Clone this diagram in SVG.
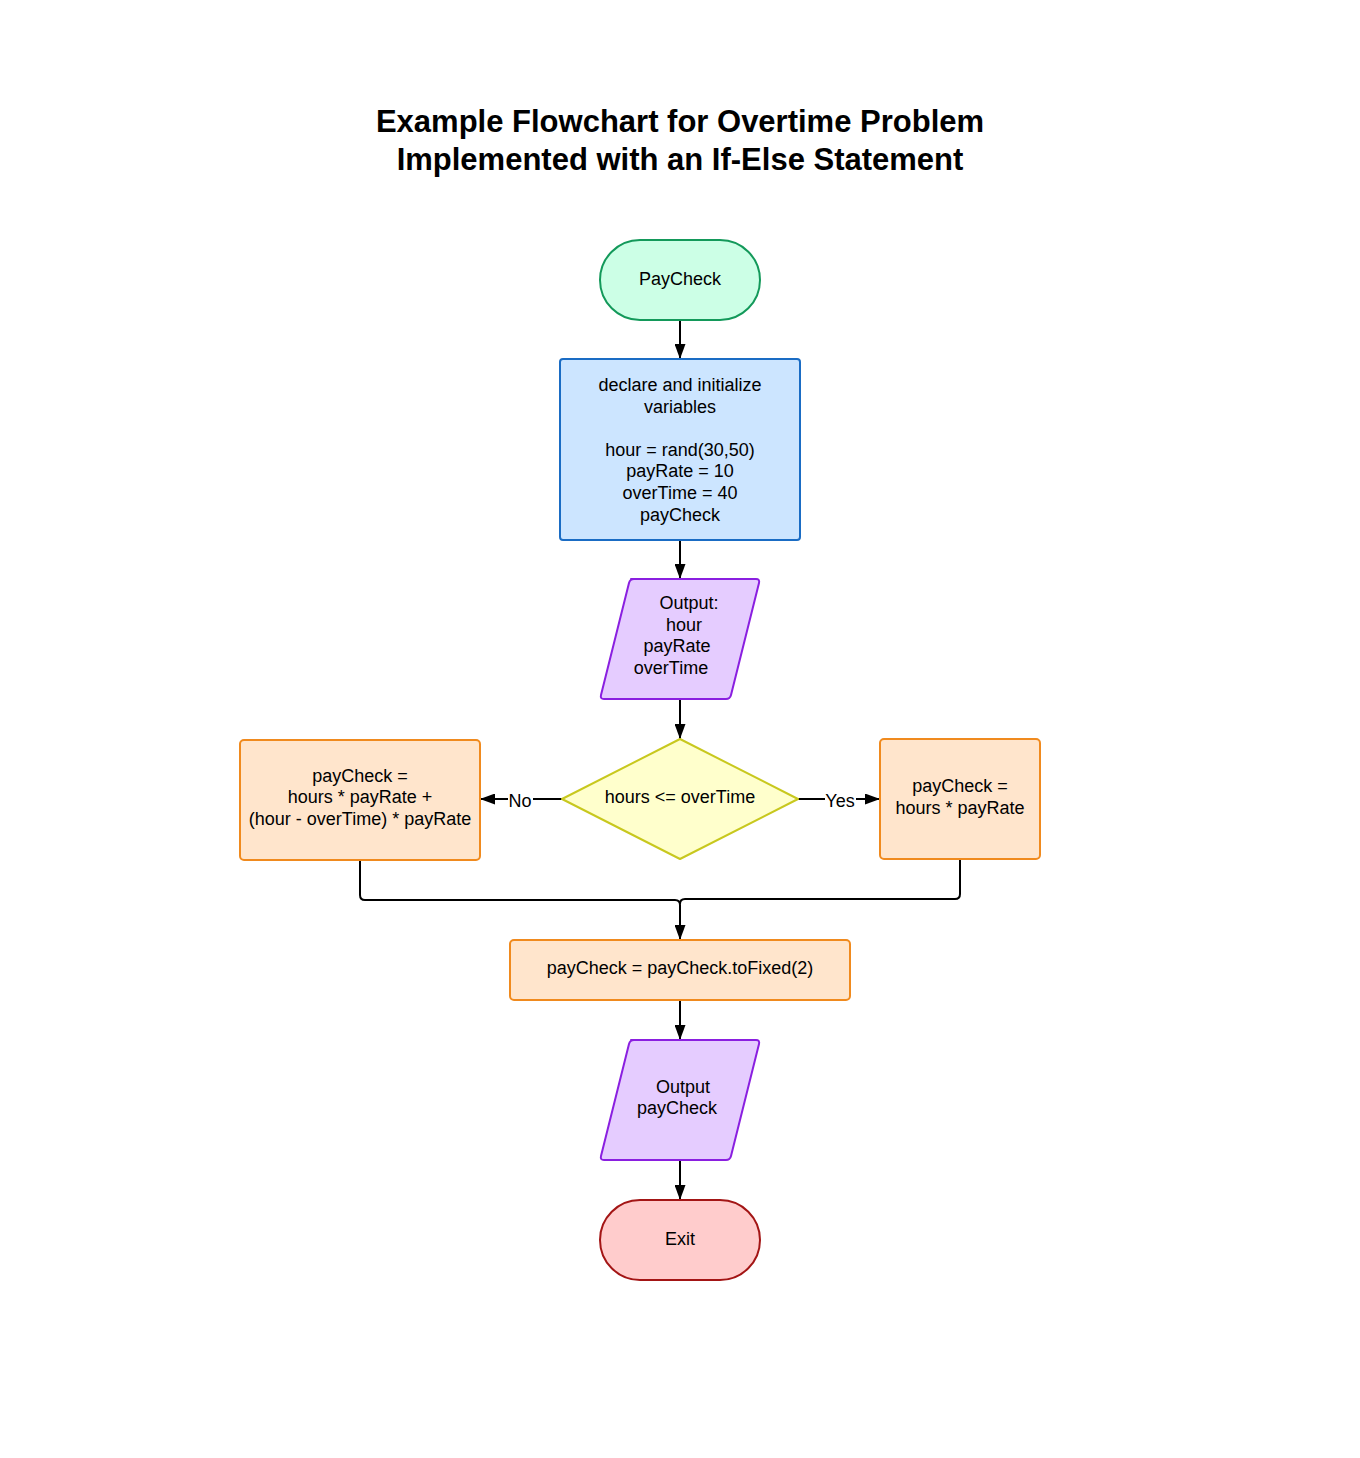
<svg xmlns="http://www.w3.org/2000/svg" width="1360" height="1458" viewBox="0 0 1360 1458">
<defs>
<style>
.t{font-family:"Liberation Sans",Arial,sans-serif;font-size:18px;fill:#000;text-anchor:middle}
.title{font-family:"Liberation Sans",Arial,sans-serif;font-size:31px;font-weight:bold;fill:#000;text-anchor:middle}
.c{fill:none;stroke:#000;stroke-width:2}
.term-g{fill:#ccffe6;stroke:#13995a;stroke-width:2}
.term-r{fill:#ffcccc;stroke:#a31515;stroke-width:2}
.proc-b{fill:#cce5ff;stroke:#1a6cc4;stroke-width:2}
.io{fill:#e5ccff;stroke:#8a1fe0;stroke-width:2;stroke-linejoin:round}
.dec{fill:#ffffcc;stroke:#c8c81e;stroke-width:2;stroke-linejoin:round}
.proc-o{fill:#ffe5cc;stroke:#f08a1e;stroke-width:2}
.lbl{fill:#fff}
</style>
<marker id="ah" markerWidth="15" markerHeight="11" viewBox="0 0 15 11" refX="15" refY="5.5" orient="auto" markerUnits="userSpaceOnUse">
<path d="M0,0 L15,5.5 L0,11 z" fill="#000"/>
</marker>
</defs>
<rect width="1360" height="1458" fill="#fff"/>
<g id="title">
<text class="title" x="680" y="132">Example Flowchart for Overtime Problem</text>
<text class="title" x="680" y="170">Implemented with an If-Else Statement</text>
</g>
<g id="connectors">
<line class="c" x1="680" y1="320" x2="680" y2="359" marker-end="url(#ah)"/>
<line class="c" x1="680" y1="540" x2="680" y2="579" marker-end="url(#ah)"/>
<line class="c" x1="680" y1="699" x2="680" y2="739" marker-end="url(#ah)"/>
<line class="c" x1="562" y1="799" x2="480" y2="799" marker-end="url(#ah)"/>
<line class="c" x1="798" y1="799" x2="880" y2="799" marker-end="url(#ah)"/>
<path class="c" d="M360,860 L360,895 Q360,900 365,900 L675,900 Q680,900 680,905 L680,940" marker-end="url(#ah)"/>
<path class="c" d="M960,859 L960,894 Q960,899 955,899 L685,899 Q680,899 680,904"/>
<line class="c" x1="680" y1="1000" x2="680" y2="1040" marker-end="url(#ah)"/>
<line class="c" x1="680" y1="1160" x2="680" y2="1200" marker-end="url(#ah)"/>
<rect class="lbl" x="508" y="790" width="25" height="18"/>
<text class="t" x="520" y="807">No</text>
<rect class="lbl" x="825" y="790" width="31" height="18"/>
<text class="t" x="840" y="807">Yes</text>
</g>
<g id="start">
<rect class="term-g" x="600" y="240" width="160" height="80" rx="40" ry="40"/>
<text class="t" x="680" y="285">PayCheck</text>
</g>
<g id="declare">
<rect class="proc-b" x="560" y="359" width="240" height="181" rx="3"/>
<text class="t" x="680" y="391">declare and initialize</text>
<text class="t" x="680" y="413">variables</text>
<text class="t" x="680" y="456">hour = rand(30,50)</text>
<text class="t" x="680" y="477">payRate = 10</text>
<text class="t" x="680" y="499">overTime = 40</text>
<text class="t" x="680" y="521">payCheck</text>
</g>
<g id="output1">
<path class="io" d="M631,579 L756,579 Q760,579 759,583 L731,695 Q730,699 726,699 L604,699 Q600,699 601,695 L629,583 Q630,579 634,579 z"/>
<text class="t" x="689" y="609">Output:</text>
<text class="t" x="684" y="631">hour</text>
<text class="t" x="677" y="652">payRate</text>
<text class="t" x="671" y="674">overTime</text>
</g>
<g id="decision">
<path class="dec" d="M680,739 L798,799 L680,859 L562,799 z"/>
<text class="t" x="680" y="803">hours &lt;= overTime</text>
</g>
<g id="no-branch">
<rect class="proc-o" x="240" y="740" width="240" height="120" rx="4"/>
<text class="t" x="360" y="782">payCheck =</text>
<text class="t" x="360" y="803">hours * payRate +</text>
<text class="t" x="360" y="825">(hour - overTime) * payRate</text>
</g>
<g id="yes-branch">
<rect class="proc-o" x="880" y="739" width="160" height="120" rx="4"/>
<text class="t" x="960" y="792">payCheck =</text>
<text class="t" x="960" y="814">hours * payRate</text>
</g>
<g id="fixed">
<rect class="proc-o" x="510" y="940" width="340" height="60" rx="4"/>
<text class="t" x="680" y="974">payCheck = payCheck.toFixed(2)</text>
</g>
<g id="output2">
<path class="io" d="M631,1040 L756,1040 Q760,1040 759,1044 L731,1156 Q730,1160 726,1160 L604,1160 Q600,1160 601,1156 L629,1044 Q630,1040 634,1040 z"/>
<text class="t" x="683" y="1093">Output</text>
<text class="t" x="677" y="1114">payCheck</text>
</g>
<g id="exit">
<rect class="term-r" x="600" y="1200" width="160" height="80" rx="40" ry="40"/>
<text class="t" x="680" y="1245">Exit</text>
</g>
</svg>
